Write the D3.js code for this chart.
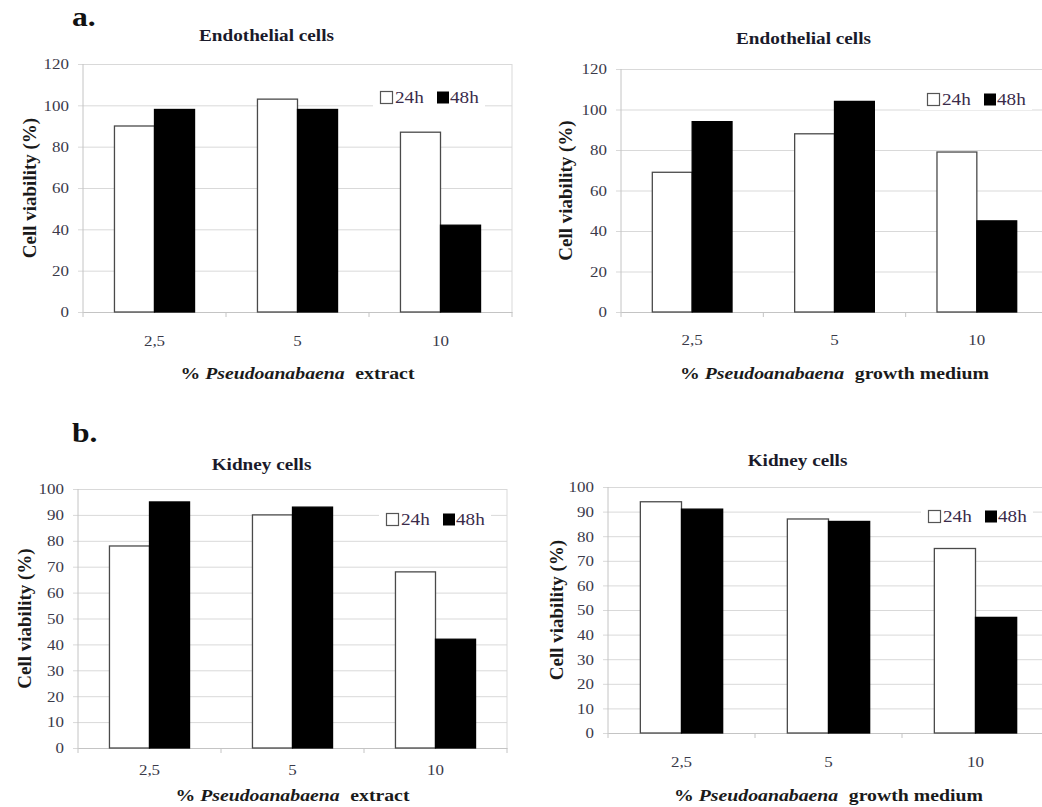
<!DOCTYPE html>
<html>
<head>
<meta charset="utf-8">
<script src="https://cdn.jsdelivr.net/npm/d3@7"></script>
<style>
  body { margin: 0; background: #fff; }
  svg { display: block; }
</style>
</head>
<body>
<script>
// categories and series
var categories = ["2,5", "5", "10"];
var seriesNames = ["24h", "48h"];

// a. endothelial cells
var endoExtract24 = [90, 103, 87];
var endoExtract48 = [98, 98, 42];
var endoMedium24 = [69, 88, 79];
var endoMedium48 = [94, 104, 45];

// b. kidney cells
var kidneyExtract24 = [78, 90, 68];
var kidneyExtract48 = [95, 93, 42];
var kidneyMedium24 = [94, 87, 75];
var kidneyMedium48 = [91, 86, 47];

var ticks120 = [0, 20, 40, 60, 80, 100, 120];
var ticks100 = [0, 10, 20, 30, 40, 50, 60, 70, 80, 90, 100];

var titleEndo = "Endothelial cells";
var titleKidney = "Kidney cells";
var yTitle = "Cell viability (%)";
var xTitleExtract = "extract";
var xTitleMedium = "growth medium";

var FONT = "Liberation Serif";
var SX = 1.13; // the source picture is a little stretched sideways

var svg = d3.select("body").append("svg")
	.attr("width", 1042)
	.attr("height", 807);

function stretched(g, x, y, txt, size, weight, anchor, fill) {
	return g.append("text")
		.attr("transform", "translate(" + x + "," + y + ") scale(" + SX + ",1)")
		.attr("text-anchor", anchor || "start")
		.attr("font-family", FONT)
		.attr("font-size", size)
		.attr("font-weight", weight || "normal")
		.attr("fill", fill || "#222")
		.text(txt);
}

var panels = [
	{ v24: endoExtract24, v48: endoExtract48, ticks: ticks120, title: titleEndo, xt: xTitleExtract,
	  left: 83, right: 512, top: 64, bottom: 312, titleY: 41, xLabelY: 346, xTitleY: 379, yTitleX: 36, legX: 380, legY: 97 },
	{ v24: endoMedium24, v48: endoMedium48, ticks: ticks120, title: titleEndo, xt: xTitleMedium,
	  left: 621, right: 1048, top: 69, bottom: 312, titleY: 44, xLabelY: 345, xTitleY: 379, yTitleX: 572, legX: 927, legY: 99 },
	{ v24: kidneyExtract24, v48: kidneyExtract48, ticks: ticks100, title: titleKidney, xt: xTitleExtract,
	  left: 78, right: 507, top: 489, bottom: 748, titleY: 470, xLabelY: 775, xTitleY: 801, yTitleX: 31, legX: 386, legY: 519 },
	{ v24: kidneyMedium24, v48: kidneyMedium48, ticks: ticks100, title: titleKidney, xt: xTitleMedium,
	  left: 608, right: 1049, top: 487, bottom: 733, titleY: 466, xLabelY: 767, xTitleY: 801, yTitleX: 563, legX: 928, legY: 516 }
];

function drawPanel(p) {
	var g = svg.append("g");
	var x = d3.scaleBand().domain(categories).range([p.left, p.right]);
	var xs = d3.scaleBand().domain(seriesNames)
		.range([x.bandwidth() * 0.22, x.bandwidth() * 0.78]);
	var y = d3.scaleLinear().domain([0, d3.max(p.ticks)]).range([p.bottom, p.top]);

	// y axis with gridlines (ticks run from the right border to 5px left of the plot)
	var ya = g.append("g")
		.attr("transform", "translate(" + p.right + ",0)")
		.call(d3.axisLeft(y).tickValues(p.ticks).tickSize(p.right - p.left + 5).tickPadding(9))
		.attr("font-family", FONT);
	ya.select(".domain").remove();
	ya.selectAll("line").attr("stroke", "#d9d9d9").attr("stroke-width", 1);
	ya.selectAll("text")
		.attr("font-size", 15)
		.attr("font-family", FONT)
		.attr("fill", "#3a3a4a")
		.attr("transform", function () {
			return "translate(" + d3.select(this).attr("x") + ",0) scale(" + SX + ",1)";
		})
		.attr("x", 0);

	// plot border
	g.append("line").attr("x1", p.right).attr("x2", p.right).attr("y1", p.top).attr("y2", p.bottom)
		.attr("stroke", "#d9d9d9");
	g.append("line").attr("x1", p.left).attr("x2", p.left).attr("y1", p.top).attr("y2", p.bottom)
		.attr("stroke", "#c4c4c4");

	// x axis
	var xa = g.append("g")
		.attr("transform", "translate(0," + p.bottom + ")")
		.call(d3.axisBottom(x).tickSize(0))
		.attr("font-family", FONT);
	xa.select(".domain").attr("stroke", "#c4c4c4");
	xa.selectAll("text")
		.attr("font-size", 15)
		.attr("font-family", FONT)
		.attr("fill", "#3a3a4a")
		.attr("y", null).attr("dy", null)
		.attr("transform", "translate(0," + (p.xLabelY - p.bottom) + ") scale(" + SX + ",1)");
	var edges = categories.map(function (c) { return x(c); }).concat([p.right]);
	g.selectAll(".edge").data(edges).enter().append("line")
		.attr("x1", function (d) { return d; }).attr("x2", function (d) { return d; })
		.attr("y1", p.bottom).attr("y2", p.bottom + 5)
		.attr("stroke", "#c4c4c4");

	// bars
	var rows = [];
	categories.forEach(function (c, i) {
		rows.push({ c: c, s: "24h", v: p.v24[i] });
		rows.push({ c: c, s: "48h", v: p.v48[i] });
	});
	g.selectAll(".bar").data(rows).enter().append("rect")
		.attr("x", function (d) { return x(d.c) + xs(d.s); })
		.attr("y", function (d) { return y(d.v); })
		.attr("width", xs.bandwidth())
		.attr("height", function (d) { return p.bottom - y(d.v); })
		.attr("fill", function (d) { return d.s === "24h" ? "#fff" : "#000"; })
		.attr("stroke", function (d) { return d.s === "24h" ? "#4a4a4a" : "#000"; })
		.attr("stroke-width", 1.3);

	// legend
	var lg = g.append("g").attr("transform", "translate(" + p.legX + "," + p.legY + ")");
	lg.append("rect").attr("x", -7).attr("y", -11).attr("width", 112).attr("height", 22).attr("fill", "#fff");
	lg.append("rect").attr("x", 0.5).attr("y", -5.5).attr("width", 12).attr("height", 12)
		.attr("fill", "#fff").attr("stroke", "#555").attr("stroke-width", 1.2);
	stretched(lg, 15, 6, seriesNames[0], 17, "normal", "start", "#3a2a4a");
	lg.append("rect").attr("x", 57).attr("y", -5.5).attr("width", 12).attr("height", 12).attr("fill", "#000");
	stretched(lg, 70, 6, seriesNames[1], 17, "normal", "start", "#3a2a4a");

	// titles
	var cx = (p.left + p.right) / 2;
	stretched(g, cx - 31, p.titleY, p.title, 17, "bold", "middle", "#1a1a2a");

	var xt = g.append("text")
		.attr("transform", "translate(" + cx + "," + p.xTitleY + ") scale(" + SX + ",1)")
		.attr("text-anchor", "middle")
		.attr("font-family", FONT)
		.attr("font-size", 17.5)
		.attr("font-weight", "bold")
		.attr("fill", "#1a1a1a");
	xt.append("tspan").text("% ");
	xt.append("tspan").attr("font-style", "italic").text("Pseudoanabaena");
	xt.append("tspan").attr("dx", 5).text(" " + p.xt);

	g.append("text")
		.attr("transform", "translate(" + p.yTitleX + "," + ((p.top + p.bottom) / 2) + ") rotate(-90)")
		.attr("text-anchor", "middle")
		.attr("font-family", FONT)
		.attr("font-size", 19)
		.attr("font-weight", "bold")
		.attr("fill", "#1a1a1a")
		.text(yTitle);
}

panels.forEach(drawPanel);

// panel letters
stretched(svg, 72, 26, "a.", 28, "bold", "start", "#111");
stretched(svg, 72, 442, "b.", 28, "bold", "start", "#111");
</script>
</body>
</html>
